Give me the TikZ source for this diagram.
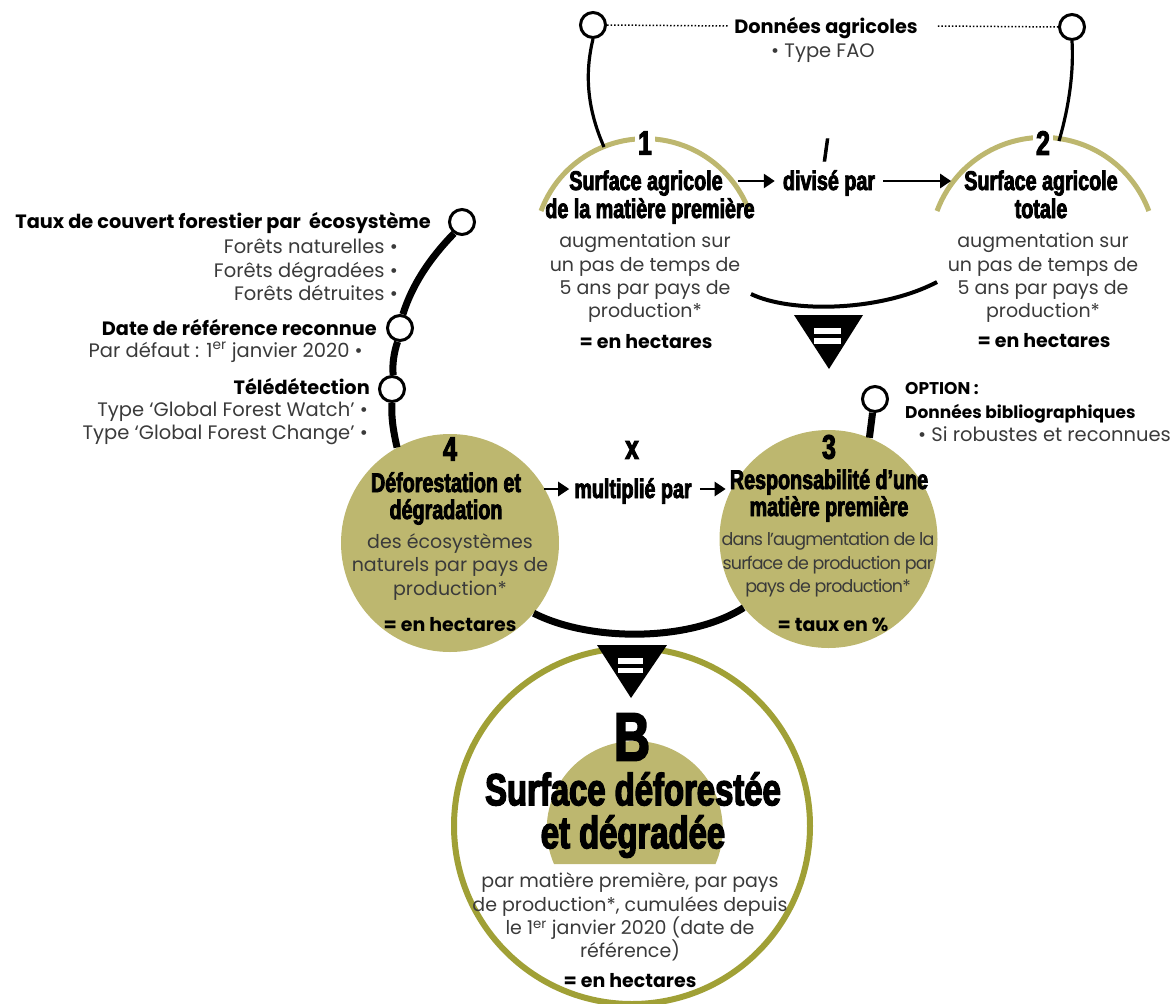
\documentclass[tikz,border=0pt]{standalone}
\usepackage{fontspec}
\setmainfont{Poppins}
\newfontfamily\imp{Liberation Sans}[UprightFont=* Bold,FakeStretch=0.73,FakeBold=3]
\usetikzlibrary{arrows.meta}
\definecolor{khaki}{HTML}{BDB76F}
\definecolor{olive}{HTML}{A0A036}
\definecolor{txt}{HTML}{3A3A3A}
\tikzset{
  x=1pt,y=-1pt,
  pin/.style={circle,draw=black,fill=white,line width=3pt,minimum size=25pt,inner sep=0pt},
  disk/.style={circle,fill=khaki,minimum size=218pt,inner sep=0pt},
  head/.style={font=\imp\fontsize{27}{28}\selectfont,inner sep=0pt,text height=23pt,text depth=5pt},
  num/.style={font=\imp\fontsize{34}{34}\selectfont,inner sep=0pt},
  big/.style={font=\imp\fontsize{45}{43}\selectfont,inner sep=0pt,align=center},
  body/.style={font=\fontsize{19}{23.3}\selectfont,text=txt,align=center,inner sep=0pt},
  tight/.style={font=\fontsize{17.5}{23.5}\selectfont\addfontfeature{LetterSpace=-5},text=txt,align=center,inner sep=0pt},
  res/.style={font=\bfseries\fontsize{19}{20}\selectfont,inner sep=0pt,text height=17pt,text depth=4pt},
  lab/.style={font=\bfseries\fontsize{19.3}{20}\selectfont,inner sep=0pt,text height=18pt,text depth=4pt},
  optlab/.style={font=\bfseries\fontsize{17}{20}\selectfont,inner sep=0pt,text height=18pt,text depth=4pt},
  sub/.style={font=\fontsize{19.5}{23.3}\selectfont,text=txt,inner sep=0pt,text height=17pt,text depth=4pt},
  link/.style={line width=3.2pt,draw=black},
  thicklink/.style={line width=7pt,draw=black},
  dots/.style={line width=1.5pt,draw=black,dotted},
  arr/.style={line width=2.6pt,-{Triangle[length=11pt,width=14pt]}},
  tri/.style={fill=black},
  bar/.style={fill=white},
  band/.style={line width=5pt,draw=khaki},
}
\begin{document}
\begin{tikzpicture}
\useasboundingbox (0,0) rectangle (1173,1004);
% top arcs
\draw[band] (541,211) arc[start angle=159.6,end angle=20.4,radius=111pt];
\draw[band] (937,211) arc[start angle=159.6,end angle=20.4,radius=113pt];
\node[num,fill=white,inner xsep=3pt] (n1) at (645,143) {1};
\node[num,fill=white,inner xsep=3pt] (n2) at (1043,143) {2};
\coordinate (a1top) at (604,147);
\coordinate (a2top) at (1059,141);
% pins
\node[pin] (pTL) at (593,25) {};
\node[pin] (pTR) at (1072,27) {};
\node[pin] (pF) at (462,222) {};
\node[pin] (pD) at (400,328) {};
\node[pin] (pT) at (392,389) {};
\node[pin] (pO) at (875,399) {};
% top label
\node[lab] (ag) at (826,26) {Données agricoles};
\node[sub] (fao) at (823,51) {• Type FAO};
\draw[dots] (pTL.east) -- ([xshift=-6pt]ag.west);
\draw[dots] ([xshift=20pt]ag.east) -- (pTR.west);
\draw[link] (pTL.south) .. controls (583,80) and (590,115) .. (a1top);
\draw[link] (pTR.south) .. controls (1074,75) and (1068,110) .. (a2top);
% top row
\node[head] (h1a) at (646,181) {Surface agricole};
\node[head] (h1b) at (650,209) {de la matière première};
\node[head] (div) at (829,181) {divisé par};
\node[num,font=\imp\fontsize{30}{30}\selectfont] (slash) at (826,150) {/};
\node[head] (h2a) at (1041,181) {Surface agricole};
\node[head] (h2b) at (1041,209) {totale};
\draw[arr] ([xshift=15pt]h1a.east) -- ([xshift=-8pt]div.west);
\draw[arr] ([xshift=8pt]div.east) -- ([xshift=-13pt]h2a.west);
\node[body] (b1) at (645,278) {augmentation sur\\un pas de temps de\\5 ans par pays de\\production*};
\node[body] (b2) at (1043,278) {augmentation sur\\un pas de temps de\\5 ans par pays de\\production*};
\node[res] (r1) at (646,342) {= en hectares};
\node[res] (r2) at (1044,341) {= en hectares};
\coordinate (cL) at (751,294);
\coordinate (cR) at (937,282);
\draw[line width=4pt] (cL) .. controls (790,313) and (880,312) .. (cR);
\fill[tri] (794,315) -- (863,315) -- (829,369) -- cycle;
\fill[bar] (814,328) rectangle (841,334);
\fill[bar] (814,338) rectangle (841,344);
% left texts
\node[lab,anchor=east] (l1) at (431,221) {Taux de couvert forestier par\ \ écosystème};
\node[sub,anchor=east] (l1a) at (398,247) {Forêts naturelles •};
\node[sub,anchor=east] (l1b) at (398,271) {Forêts dégradées •};
\node[sub,anchor=east] (l1c) at (398,294) {Forêts détruites •};
\node[lab,anchor=east] (l2) at (377,328) {Date de référence reconnue};
\node[sub,anchor=east] (l2a) at (363,351) {Par défaut : 1\textsuperscript{er} janvier 2020 •};
\node[lab,anchor=east] (l3) at (370,387) {Télédétection};
\node[sub,anchor=east] (l3a) at (368,410) {Type ‘Global Forest Watch’ •};
\node[sub,anchor=east] (l3b) at (368,433) {Type ‘Global Forest Change’ •};
% middle disks
\node[disk] (d4) at (450,543) {};
\node[disk] (d3) at (828.5,539) {};
\draw[thicklink] (pF.-125) .. controls (430,258) and (412,285) .. (pD.78);
\draw[thicklink] (pD.-100) .. controls (394,352) and (392,365) .. (pT.85);
\draw[thicklink] (pT.-90) .. controls (391,415) and (393,430) .. (d4.119);
\draw[thicklink] (pO.-100) -- (d3.68);
\draw[thicklink] (d4.-40) .. controls (590,642) and (690,642) .. (d3.-141);
\node[num] (n4) at (450,449) {4};
\node[num] (n3) at (829,447) {3};
\node[head] (h4a) at (446,483) {Déforestation et};
\node[head] (h4b) at (446,510) {dégradation};
\node[head] (h3a) at (829,480) {Responsabilité d’une};
\node[head] (h3b) at (829,507) {matière première};
\node[head] (mul) at (633,489) {multiplié par};
\node[num,font=\imp\fontsize{34}{34}\selectfont] (xx) at (632,450) {x};
\draw[arr] ([xshift=-15pt]d4.east |- mul.center) -- ([xshift=-5pt]mul.west);
\draw[arr] ([xshift=8pt]mul.east) -- ([xshift=-4pt]h3a.west |- mul.center);
\node[body] (b4) at (450,567) {des écosystèmes\\naturels par pays de\\production*};
\node[tight] (b3) at (828,565) {dans l’augmentation de la\\surface de production par\\pays de production*};
\node[res] (r4) at (450,625) {= en hectares};
\node[res] (r3) at (833,625) {= taux en \%};
% option
\node[optlab,anchor=west] (o1) at (905,387) {OPTION :};
\node[optlab,anchor=west] (o2) at (905,411) {Données bibliographiques};
\node[sub,anchor=west] (o3) at (918,435) {• Si robustes et reconnues};
% B
\fill[khaki] (554,864) arc[start angle=203.4,end angle=-23.4,radius=88pt] -- cycle;
\node[circle,draw=olive,line width=6pt,minimum size=356pt,inner sep=0pt] (B) at (632,826) {};
\fill[tri] (597,645) -- (667,645) -- (631,698) -- cycle;
\fill[bar] (618,658) rectangle (643,663.5);
\fill[bar] (618,667.5) rectangle (643,673);
\node[num,font=\imp\fontsize{68}{68}\selectfont] (nB) at (632,737) {B};
\node[big] (hB) at (633,815) {Surface déforestée\\et dégradée};
\node[body] (bB) at (630,917) {par matière première, par pays\\de production*, cumulées depuis\\le 1\textsuperscript{er} janvier 2020 (date de\\référence)};
\node[res] (rB) at (630,981) {= en hectares};
\end{tikzpicture}
\end{document}
